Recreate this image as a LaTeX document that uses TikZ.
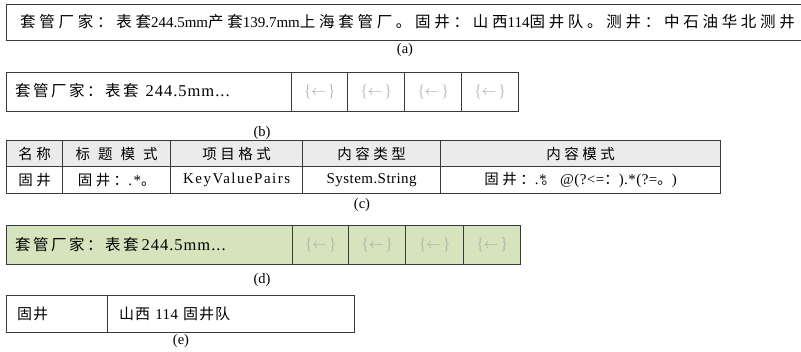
\documentclass[tikz,border=0pt]{standalone}
\usepackage{fontspec}
\setmainfont{Liberation Serif}
\newfontfamily\zhA[LetterSpace=24]{Noto Sans CJK SC}
\newfontfamily\zhB[LetterSpace=16]{Noto Sans CJK SC}
\newfontfamily\zhC[LetterSpace=24]{Noto Sans CJK SC}
\newfontfamily\zhH[LetterSpace=55]{Noto Sans CJK SC}
\newfontfamily\zhD[LetterSpace=7]{Noto Sans CJK SC}
\newfontfamily\enB[LetterSpace=6]{Liberation Serif}
\newfontfamily\enC[LetterSpace=10]{Liberation Serif}
\newfontfamily\enD[LetterSpace=3]{Liberation Serif}
\newcommand{\za}[1]{{\zhA\fontsize{15.5}{18}\selectfont #1}}
\newcommand{\zb}[1]{{\zhB\fontsize{15.5}{18}\selectfont #1}}
\newcommand{\zc}[1]{{\zhC\fontsize{14.5}{17}\selectfont #1}}
\newcommand{\zh}[1]{{\zhH\fontsize{14.5}{17}\selectfont #1}}
\newcommand{\zd}[1]{{\zhD\fontsize{15}{18}\selectfont #1}}
\newcommand{\eb}[1]{{\enB\fontsize{16.5}{19}\selectfont #1}}
\newcommand{\ec}[1]{{\enC\fontsize{15}{18}\selectfont #1}}
\newcommand{\ed}[1]{{\enD\fontsize{15}{18}\selectfont #1}}
\definecolor{lineC}{HTML}{3A3A3A}
\definecolor{headC}{HTML}{EBEBEB}
\definecolor{greenC}{HTML}{D6E4BD}
\definecolor{arrC}{HTML}{A8A8A8}
\tikzset{
  cell/.style={draw=lineC, line width=1.3pt, rectangle, inner sep=0pt, anchor=north west},
  capt/.style={font=\fontsize{14.5}{16}\selectfont},
  txt/.style={inner sep=0pt, anchor=west, font=\fontsize{15}{17}\selectfont},
  ctxt/.style={inner sep=0pt},
  arr/.style={inner sep=0pt, text=arrC, font=\fontsize{15}{17}\selectfont}
}
\begin{document}
\begin{tikzpicture}[x=1pt,y=-1pt]
\useasboundingbox (0,0) rectangle (801,351);
\clip (0,0) rectangle (801,351);
% (a)
\node[cell, minimum width=810pt, minimum height=36pt] (a0) at (6,4) {};
\node[txt] (atext) at (20,22) {\za{套管厂家：表套}244.5mm\za{产套}139.7mm\za{上海套管厂。固井：山西}114\za{固井队。测井：中石油华北测井}};
\node[capt] (acap) at (405,50) {(a)};
% (b)
\node[cell, minimum width=285pt, minimum height=39pt] (b0) at (6,72) {};
\node[cell, minimum width=56pt, minimum height=39pt] (b1) at (291,72) {};
\node[cell, minimum width=57pt, minimum height=39pt] (b2) at (347,72) {};
\node[cell, minimum width=57pt, minimum height=39pt] (b3) at (404,72) {};
\node[cell, minimum width=57pt, minimum height=39pt] (b4) at (461,72) {};
\node[txt] (btext) at (15,91) {\zb{套管厂家：表套}\hspace{7pt}\eb{244.5mm...}};
\foreach \n in {b1,b2,b3,b4} \node[arr] at (\n.center) {$\{\leftarrow\,\}$};
\node[capt] (bcap) at (262,133) {(b)};
% (c)
\node[cell, fill=headC, minimum width=56pt, minimum height=26pt] (c11) at (6,140) {};
\node[cell, fill=headC, minimum width=108pt, minimum height=26pt] (c12) at (62,140) {};
\node[cell, fill=headC, minimum width=132pt, minimum height=26pt] (c13) at (170,140) {};
\node[cell, fill=headC, minimum width=138pt, minimum height=26pt] (c14) at (302,140) {};
\node[cell, fill=headC, minimum width=280pt, minimum height=26pt] (c15) at (440,140) {};
\node[cell, minimum width=56pt, minimum height=27pt] (c21) at (6,166) {};
\node[cell, minimum width=108pt, minimum height=27pt] (c22) at (62,166) {};
\node[cell, minimum width=132pt, minimum height=27pt] (c23) at (170,166) {};
\node[cell, minimum width=138pt, minimum height=27pt] (c24) at (302,166) {};
\node[cell, minimum width=280pt, minimum height=27pt] (c25) at (440,166) {};
\node[ctxt] at (c11.center) {\zc{名称}};
\node[ctxt] at (c12.center) {\zh{标题模式}};
\node[ctxt] at (c13.center) {\zc{项目格式}};
\node[ctxt] at (c14.center) {\zc{内容类型}};
\node[ctxt] at (c15.center) {\zc{内容模式}};
\node[ctxt] at (c21.center) {\zc{固井}};
\node[ctxt] at (c22.center) {\zc{固井：}\ec{.*}\zc{。}};
\node[ctxt] at (c23.center) {\ec{KeyValuePairs}};
\node[ctxt] at (c24.center) {\ed{System.String}};
\node[ctxt] at (c25.center) {\zc{固井：}\ed{.*}\kern-5pt\zc{。}\hspace{4pt}\ed{@(?<=}\zc{：}\ed{).*(?=}\zc{。}\ed{)}};
\node[capt] (ccap) at (362,205) {(c)};
% (d)
\node[cell, fill=greenC, minimum width=286pt, minimum height=39pt] (d0) at (6,225) {};
\node[cell, fill=greenC, minimum width=56pt, minimum height=39pt] (d1) at (292,225) {};
\node[cell, fill=greenC, minimum width=57pt, minimum height=39pt] (d2) at (348,225) {};
\node[cell, fill=greenC, minimum width=58pt, minimum height=39pt] (d3) at (405,225) {};
\node[cell, fill=greenC, minimum width=57pt, minimum height=39pt] (d4) at (463,225) {};
\node[txt] (dtext) at (15,244.5) {\zb{套管厂家：表套}\hspace{3pt}\eb{244.5mm...}};
\foreach \n in {d1,d2,d3,d4} \node[arr] at (\n.center) {$\{\leftarrow\,\}$};
\node[capt] (dcap) at (262,280) {(d)};
% (e)
\node[cell, minimum width=101pt, minimum height=37pt] (e1) at (6,295) {};
\node[cell, minimum width=247pt, minimum height=37pt] (e2) at (107,295) {};
\node[txt] (etext1) at (17,313.5) {\zd{固井}};
\node[txt] (etext2) at (119,313.5) {\zd{山西}\hspace{5pt}\ed{114}\hspace{5pt}\zd{固井队}};
\node[capt] (ecap) at (181,341) {(e)};
\end{tikzpicture}
\end{document}
